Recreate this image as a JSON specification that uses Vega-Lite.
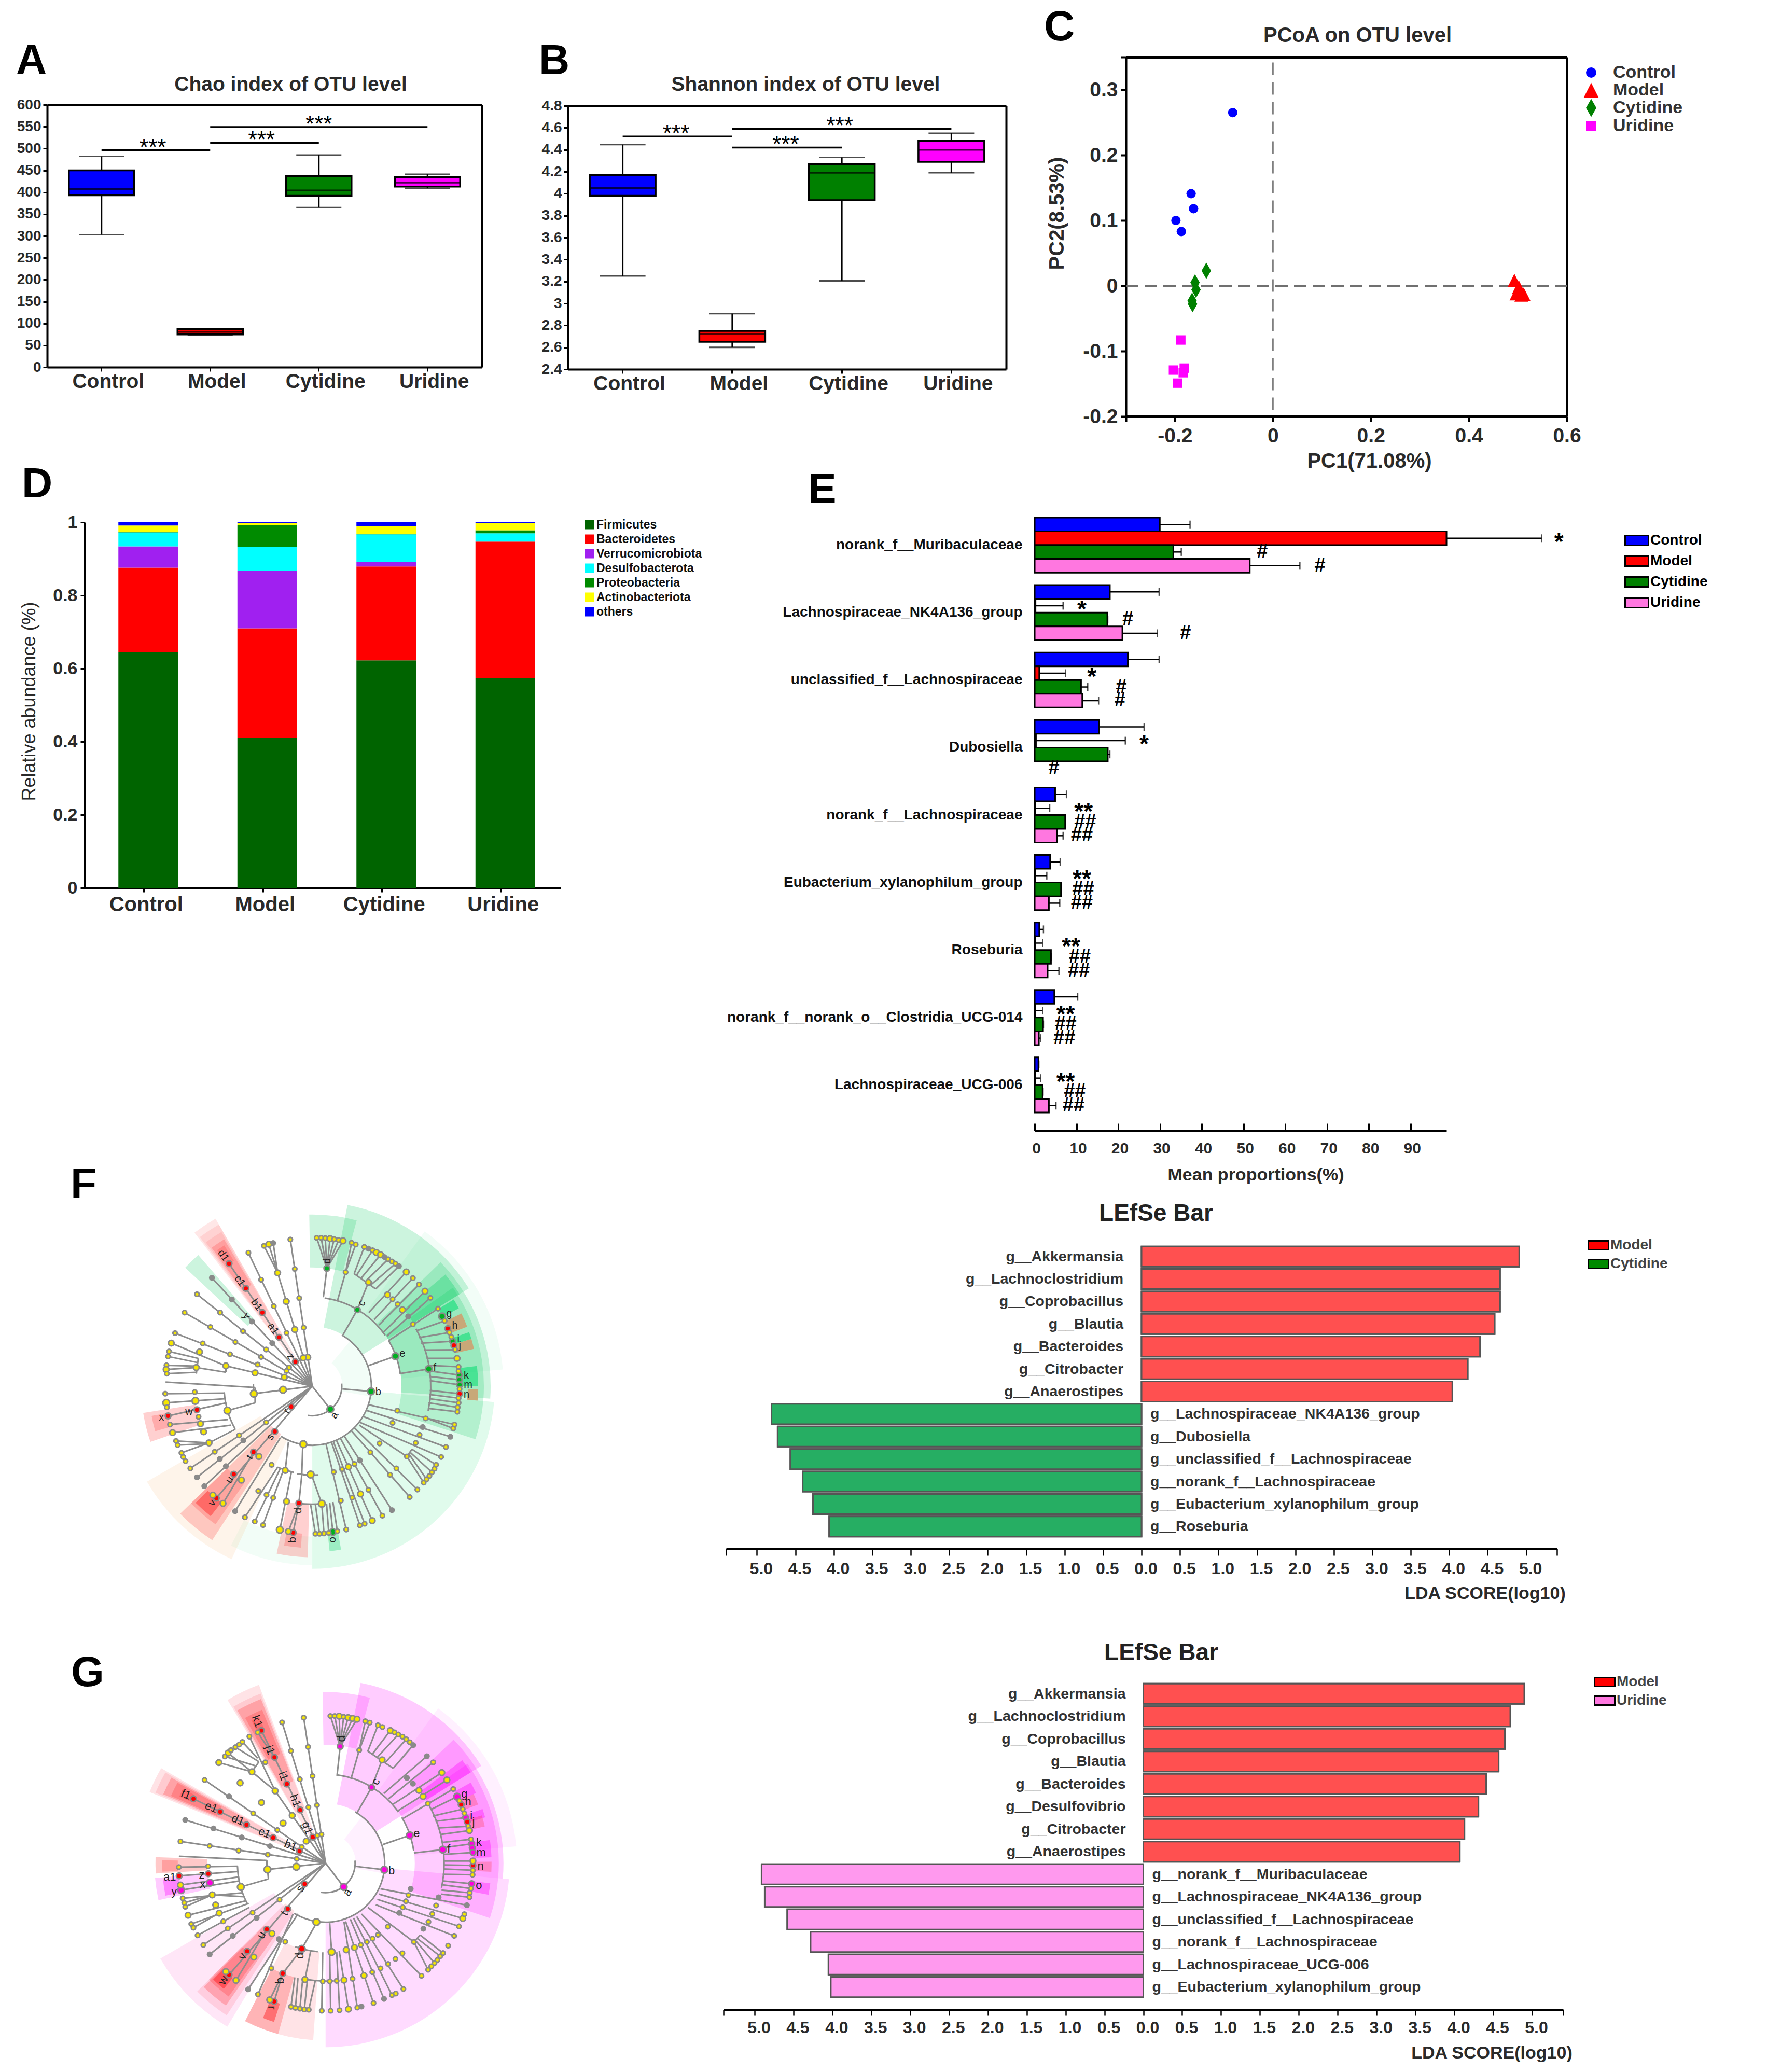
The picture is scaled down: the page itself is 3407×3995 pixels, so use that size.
{"$schema":"https://vega.github.io/schema/vega-lite/v6.json","padding":0,"background":"white","columns":3,"spacing":0,"bounds":"flush","align":"each",
"resolve":{"scale":{"color":"independent","fill":"independent","shape":"independent","size":"independent","theta":"independent","radius":"independent"},"legend":{"color":"independent","fill":"independent","shape":"independent","size":"independent"}},
"config":{"view":{"stroke":null},"font":"Liberation Sans","axis":{"grid":false,"labelFont":"Liberation Sans","labelFontWeight":"bold","labelColor":"#2a2a2a","titleFont":"Liberation Sans","titleFontWeight":"bold","titleColor":"#2a2a2a","domainColor":"#000","tickColor":"#000","labelOverlap":false,"labelFlush":false,"labelAngle":0,"titleBaseline":"alphabetic","titleAlign":"center"},"legend":{"labelFont":"Liberation Sans","labelFontWeight":"bold","labelColor":"#222","labelLimit":500},"title":{"font":"Liberation Sans","fontWeight":"bold","color":"#000","anchor":"start","frame":"group","offset":0,"baseline":"alphabetic"}},
"datasets":{
"boxA":[{"group":"Control","min":303,"q1":393,"med":407,"q3":450,"max":482},{"group":"Model","min":74,"q1":75,"med":81,"q3":87,"max":88},{"group":"Cytidine","min":365,"q1":392,"med":404,"q3":437,"max":485},{"group":"Uridine","min":409,"q1":413,"med":422,"q3":435,"max":441}],
"boxB":[{"group":"Control","min":3.25,"q1":3.98,"med":4.05,"q3":4.17,"max":4.447},{"group":"Model","min":2.6,"q1":2.65,"med":2.72,"q3":2.75,"max":2.907},{"group":"Cytidine","min":3.205,"q1":3.94,"med":4.19,"q3":4.27,"max":4.33},{"group":"Uridine","min":4.19,"q1":4.29,"med":4.4,"q3":4.48,"max":4.55}],
"pcoa":[{"s":"Control","x":-0.082,"y":0.265},{"s":"Control","x":-0.167,"y":0.141},{"s":"Control","x":-0.162,"y":0.118},{"s":"Control","x":-0.198,"y":0.1},{"s":"Control","x":-0.187,"y":0.083},{"s":"Model","x":0.493,"y":0.008},{"s":"Model","x":0.502,"y":-0.002},{"s":"Model","x":0.497,"y":-0.012},{"s":"Model","x":0.507,"y":-0.014},{"s":"Model","x":0.512,"y":-0.013},{"s":"Cytidine","x":-0.136,"y":0.023},{"s":"Cytidine","x":-0.159,"y":0.005},{"s":"Cytidine","x":-0.157,"y":-0.006},{"s":"Cytidine","x":-0.165,"y":-0.023},{"s":"Cytidine","x":-0.164,"y":-0.028},{"s":"Uridine","x":-0.188,"y":-0.083},{"s":"Uridine","x":-0.181,"y":-0.126},{"s":"Uridine","x":-0.183,"y":-0.133},{"s":"Uridine","x":-0.203,"y":-0.129},{"s":"Uridine","x":-0.195,"y":-0.149}],
"stack":[{"g":"Control","p":"Firmicutes","r":1,"v":0.645},{"g":"Control","p":"Bacteroidetes","r":2,"v":0.231},{"g":"Control","p":"Verrucomicrobiota","r":3,"v":0.058},{"g":"Control","p":"Desulfobacterota","r":4,"v":0.0385},{"g":"Control","p":"Proteobacteria","r":5,"v":0.0005},{"g":"Control","p":"Actinobacteriota","r":6,"v":0.018},{"g":"Control","p":"others","r":7,"v":0.009},
{"g":"Model","p":"Firmicutes","r":1,"v":0.41},{"g":"Model","p":"Bacteroidetes","r":2,"v":0.3},{"g":"Model","p":"Verrucomicrobiota","r":3,"v":0.158},{"g":"Model","p":"Desulfobacterota","r":4,"v":0.0645},{"g":"Model","p":"Proteobacteria","r":5,"v":0.0605},{"g":"Model","p":"Actinobacteriota","r":6,"v":0.005},{"g":"Model","p":"others","r":7,"v":0.002},
{"g":"Cytidine","p":"Firmicutes","r":1,"v":0.6225},{"g":"Cytidine","p":"Bacteroidetes","r":2,"v":0.2565},{"g":"Cytidine","p":"Verrucomicrobiota","r":3,"v":0.012},{"g":"Cytidine","p":"Desulfobacterota","r":4,"v":0.076},{"g":"Cytidine","p":"Proteobacteria","r":5,"v":0.001},{"g":"Cytidine","p":"Actinobacteriota","r":6,"v":0.022},{"g":"Cytidine","p":"others","r":7,"v":0.01},
{"g":"Uridine","p":"Firmicutes","r":1,"v":0.574},{"g":"Uridine","p":"Bacteroidetes","r":2,"v":0.373},{"g":"Uridine","p":"Desulfobacterota","r":4,"v":0.023},{"g":"Uridine","p":"Proteobacteria","r":5,"v":0.008},{"g":"Uridine","p":"Actinobacteriota","r":6,"v":0.019},{"g":"Uridine","p":"others","r":7,"v":0.003}],
"prop":[{"c":"norank_f__Muribaculaceae","s":"Control","v":29.96,"e":37.2},{"c":"norank_f__Muribaculaceae","s":"Model","v":98.6,"e":121.4},{"c":"norank_f__Muribaculaceae","s":"Cytidine","v":33.2,"e":35.1},{"c":"norank_f__Muribaculaceae","s":"Uridine","v":51.5,"e":63.5},
{"c":"Lachnospiraceae_NK4A136_group","s":"Control","v":18,"e":29.8},{"c":"Lachnospiraceae_NK4A136_group","s":"Model","v":0.2,"e":6.8},{"c":"Lachnospiraceae_NK4A136_group","s":"Cytidine","v":17.4,"e":17.5},{"c":"Lachnospiraceae_NK4A136_group","s":"Uridine","v":21,"e":29.4},
{"c":"unclassified_f__Lachnospiraceae","s":"Control","v":22.3,"e":29.8},{"c":"unclassified_f__Lachnospiraceae","s":"Model","v":1.1,"e":7.4},{"c":"unclassified_f__Lachnospiraceae","s":"Cytidine","v":11.1,"e":12.7},{"c":"unclassified_f__Lachnospiraceae","s":"Uridine","v":11.4,"e":15.3},
{"c":"Dubosiella","s":"Control","v":15.4,"e":26.2},{"c":"Dubosiella","s":"Model","v":0.3,"e":21.7},{"c":"Dubosiella","s":"Cytidine","v":17.5,"e":18},
{"c":"norank_f__Lachnospiraceae","s":"Control","v":4.9,"e":7.6},{"c":"norank_f__Lachnospiraceae","s":"Model","v":0.1,"e":3.6},{"c":"norank_f__Lachnospiraceae","s":"Cytidine","v":7.3,"e":7.4},{"c":"norank_f__Lachnospiraceae","s":"Uridine","v":5.4,"e":6.8},
{"c":"Eubacterium_xylanophilum_group","s":"Control","v":3.7,"e":6.1},{"c":"Eubacterium_xylanophilum_group","s":"Model","v":0.1,"e":2.9},{"c":"Eubacterium_xylanophilum_group","s":"Cytidine","v":6.3,"e":6.4},{"c":"Eubacterium_xylanophilum_group","s":"Uridine","v":3.4,"e":6},
{"c":"Roseburia","s":"Control","v":1.1,"e":2.1},{"c":"Roseburia","s":"Model","v":0.1,"e":1.9},{"c":"Roseburia","s":"Cytidine","v":3.9,"e":4},{"c":"Roseburia","s":"Uridine","v":3.1,"e":5.8},
{"c":"norank_f__norank_o__Clostridia_UCG-014","s":"Control","v":4.7,"e":10.3},{"c":"norank_f__norank_o__Clostridia_UCG-014","s":"Model","v":0.1,"e":1.9},{"c":"norank_f__norank_o__Clostridia_UCG-014","s":"Cytidine","v":2,"e":2.1},{"c":"norank_f__norank_o__Clostridia_UCG-014","s":"Uridine","v":1,"e":1.4},
{"c":"Lachnospiraceae_UCG-006","s":"Control","v":0.9,"e":1},{"c":"Lachnospiraceae_UCG-006","s":"Model","v":0.1,"e":1.4},{"c":"Lachnospiraceae_UCG-006","s":"Cytidine","v":1.9,"e":2},{"c":"Lachnospiraceae_UCG-006","s":"Uridine","v":3.4,"e":5.1}],
"sig":[{"c":"norank_f__Muribaculaceae","s":"Model","t":"*","x":125.5},{"c":"norank_f__Muribaculaceae","s":"Cytidine","t":"#","x":54.5},{"c":"norank_f__Muribaculaceae","s":"Uridine","t":"#","x":68.3},
{"c":"Lachnospiraceae_NK4A136_group","s":"Model","t":"*","x":11.3},{"c":"Lachnospiraceae_NK4A136_group","s":"Cytidine","t":"#","x":22.3},{"c":"Lachnospiraceae_NK4A136_group","s":"Uridine","t":"#","x":36.1},
{"c":"unclassified_f__Lachnospiraceae","s":"Model","t":"*","x":13.7},{"c":"unclassified_f__Lachnospiraceae","s":"Cytidine","t":"#","x":20.7},{"c":"unclassified_f__Lachnospiraceae","s":"Uridine","t":"#","x":20.4},
{"c":"Dubosiella","s":"Model","t":"*","x":26.2},{"c":"Dubosiella","s":"Uridine","t":"#","x":4.6},
{"c":"norank_f__Lachnospiraceae","s":"Model","t":"**","x":11.7},{"c":"norank_f__Lachnospiraceae","s":"Cytidine","t":"##","x":12.1},{"c":"norank_f__Lachnospiraceae","s":"Uridine","t":"##","x":11.3},
{"c":"Eubacterium_xylanophilum_group","s":"Model","t":"**","x":11.3},{"c":"Eubacterium_xylanophilum_group","s":"Cytidine","t":"##","x":11.6},{"c":"Eubacterium_xylanophilum_group","s":"Uridine","t":"##","x":11.3},
{"c":"Roseburia","s":"Model","t":"**","x":8.7},{"c":"Roseburia","s":"Cytidine","t":"##","x":10.8},{"c":"Roseburia","s":"Uridine","t":"##","x":10.6},
{"c":"norank_f__norank_o__Clostridia_UCG-014","s":"Model","t":"**","x":7.4},{"c":"norank_f__norank_o__Clostridia_UCG-014","s":"Cytidine","t":"##","x":7.4},{"c":"norank_f__norank_o__Clostridia_UCG-014","s":"Uridine","t":"##","x":7.1},
{"c":"Lachnospiraceae_UCG-006","s":"Model","t":"**","x":7.4},{"c":"Lachnospiraceae_UCG-006","s":"Cytidine","t":"##","x":9.6},{"c":"Lachnospiraceae_UCG-006","s":"Uridine","t":"##","x":9.3}],
"lefF":[{"n":"g__Akkermansia","k":"Model","v":4.91},{"n":"g__Lachnoclostridium","k":"Model","v":4.66},{"n":"g__Coprobacillus","k":"Model","v":4.66},{"n":"g__Blautia","k":"Model","v":4.59},{"n":"g__Bacteroides","k":"Model","v":4.4},{"n":"g__Citrobacter","k":"Model","v":4.24},{"n":"g__Anaerostipes","k":"Model","v":4.04},{"n":"g__Lachnospiraceae_NK4A136_group","k":"Cytidine","v":-4.81},{"n":"g__Dubosiella","k":"Cytidine","v":-4.73},{"n":"g__unclassified_f__Lachnospiraceae","k":"Cytidine","v":-4.565},{"n":"g__norank_f__Lachnospiraceae","k":"Cytidine","v":-4.405},{"n":"g__Eubacterium_xylanophilum_group","k":"Cytidine","v":-4.27},{"n":"g__Roseburia","k":"Cytidine","v":-4.06}],
"lefG":[{"n":"g__Akkermansia","k":"Model","v":4.9},{"n":"g__Lachnoclostridium","k":"Model","v":4.72},{"n":"g__Coprobacillus","k":"Model","v":4.65},{"n":"g__Blautia","k":"Model","v":4.57},{"n":"g__Bacteroides","k":"Model","v":4.41},{"n":"g__Desulfovibrio","k":"Model","v":4.31},{"n":"g__Citrobacter","k":"Model","v":4.13},{"n":"g__Anaerostipes","k":"Model","v":4.07},{"n":"g__norank_f__Muribaculaceae","k":"Uridine","v":-4.91},{"n":"g__Lachnospiraceae_NK4A136_group","k":"Uridine","v":-4.87},{"n":"g__unclassified_f__Lachnospiraceae","k":"Uridine","v":-4.58},{"n":"g__norank_f__Lachnospiraceae","k":"Uridine","v":-4.28},{"n":"g__Lachnospiraceae_UCG-006","k":"Uridine","v":-4.05},{"n":"g__Eubacterium_xylanophilum_group","k":"Uridine","v":-4.02}],
"secF":[{"a":180,"b":207,"r":290,"q":345,"k":"g00"},{"a":95,"b":180,"r":115,"q":352,"k":"g0"},{"a":40,"b":100,"r":58,"q":115,"k":"g00"},{"a":36,"b":85,"r":172,"q":369,"k":"g00"},{"a":11,"b":58,"r":115,"q":356,"k":"g1"},{"a":-1,"b":15,"r":229,"q":331,"k":"g1"},{"a":46,"b":94,"r":172,"q":344,"k":"g1"},{"a":55,"b":108,"r":172,"q":331,"k":"g1"},{"a":50,"b":58,"r":230,"q":335,"k":"g2"},{"a":58.5,"b":62,"r":285,"q":320,"k":"g3"},{"a":71,"b":73.5,"r":285,"q":320,"k":"g3"},{"a":83,"b":90,"r":285,"q":320,"k":"g3"},{"a":170,"b":174,"r":285,"q":320,"k":"g2"},{"a":313,"b":319,"r":170,"q":335,"k":"g1"},{"a":205,"b":240,"r":115,"q":368,"k":"o0"},{"a":322.5,"b":330,"r":60,"q":373,"k":"r0"},{"a":323,"b":330,"r":114,"q":360,"k":"r0"},{"a":323.5,"b":329.5,"r":170,"q":345,"k":"r0"},{"a":324,"b":329,"r":228,"q":330,"k":"r1"},{"a":325,"b":328,"r":285,"q":320,"k":"r1"},{"a":251,"b":261,"r":228,"q":330,"k":"r1"},{"a":254,"b":259.5,"r":285,"q":315,"k":"r1"},{"a":213,"b":226,"r":110,"q":354,"k":"r1"},{"a":215,"b":226,"r":228,"q":325,"k":"r1"},{"a":218,"b":225,"r":285,"q":318,"k":"r2"},{"a":181.5,"b":192,"r":228,"q":330,"k":"r1"},{"a":184,"b":190,"r":285,"q":312,"k":"r1"},{"a":64,"b":69,"r":285,"q":320,"k":"tan"},{"a":73.5,"b":77,"r":285,"q":320,"k":"tan"},{"a":91,"b":95,"r":300,"q":320,"k":"tan"}],
"ringF":[{"a":30,"b":212,"r":112.5,"q":115.5},{"a":85,"b":189,"r":55.5,"q":58.5},{"a":8,"b":55,"r":170,"q":173},{"a":59,"b":82,"r":170,"q":173},{"a":61,"b":102,"r":227,"q":230},{"a":241,"b":266,"r":168.5,"q":171.5},{"a":262,"b":272,"r":112,"q":115},{"a":192,"b":203,"r":168.5,"q":171.5},{"a":175,"b":188,"r":226,"q":229},{"a":176,"b":190,"r":170,"q":173}],
"edgeF":[{"x":820,"y":845,"x2":558,"y2":404},{"x":820,"y":845,"x2":504,"y2":455},{"x":820,"y":845,"x2":457,"y2":514},{"x":820,"y":845,"x2":418,"y2":580},{"x":820,"y":845,"x2":388,"y2":654},{"x":820,"y":845,"x2":619,"y2":365},{"x":820,"y":845,"x2":751,"y2":317},{"x":820,"y":845,"x2":711,"y2":437},{"x":711,"y":437,"x2":683,"y2":334},{"x":711,"y":437,"x2":668,"y2":340},{"x":711,"y":437,"x2":697,"y2":330},
{"x":820,"y":845,"x2":548,"y2":772},{"x":548,"y":772,"x2":376,"y2":690},{"x":548,"y":772,"x2":548,"y2":795},{"x":548,"y":795,"x2":455,"y2":778},{"x":461,"y":745,"x2":455,"y2":800},{"x":461,"y":745,"x2":369,"y2":720},{"x":458,"y":760,"x2":366,"y2":738},{"x":456,"y":773,"x2":361,"y2":770},{"x":455,"y":778,"x2":360,"y2":785},{"x":454,"y":795,"x2":362,"y2":800},
{"x":820,"y":845,"x2":636,"y2":872},{"x":640,"y":850,"x2":640,"y2":905},{"x":640,"y":850,"x2":358,"y2":830},{"x":640,"y":905,"x2":553,"y2":933},{"x":545,"y":870,"x2":357,"y2":872},{"x":548,"y":890,"x2":360,"y2":905},{"x":550,"y":905,"x2":366,"y2":952},{"x":555,"y":965,"x2":372,"y2":983},{"x":565,"y":985,"x2":380,"y2":1012},{"x":578,"y":1000,"x2":495,"y2":1049},{"x":495,"y":1049,"x2":408,"y2":1085},{"x":495,"y":1049,"x2":391,"y2":1042},{"x":495,"y":1052,"x2":396,"y2":1057},{"x":408,"y":1085,"x2":421,"y2":1115},
{"x":820,"y":845,"x2":436,"y2":1141},{"x":820,"y":845,"x2":457,"y2":1173},{"x":820,"y":845,"x2":518,"y2":1248},{"x":635,"y":1082,"x2":539,"y2":1267},{"x":820,"y":845,"x2":480,"y2":1205},
{"x":790,"y":1060,"x2":787,"y2":1165},{"x":787,"y":1165,"x2":778,"y2":1266},{"x":778,"y":1266,"x2":760,"y2":1372},{"x":778,"y":1266,"x2":745,"y2":1368},{"x":818,"y":1165,"x2":850,"y2":1268},{"x":815,"y":1272,"x2":830,"y2":1376},{"x":830,"y":1272,"x2":843,"y2":1376},{"x":850,"y":1268,"x2":857,"y2":1375},{"x":865,"y":1268,"x2":872,"y2":1373},{"x":875,"y":1265,"x2":885,"y2":1370},{"x":885,"y":1262,"x2":899,"y2":1367},{"x":792,"y":1165,"x2":815,"y2":1163},{"x":745,"y":1045,"x2":735,"y2":1148},{"x":712,"y":1135,"x2":608,"y2":1317},{"x":755,"y":1150,"x2":718,"y2":1362},{"x":730,"y":1145,"x2":665,"y2":1345},{"x":720,"y":1140,"x2":639,"y2":1332},{"x":720,"y":1030,"x2":577,"y2":1295},
{"x":863,"y":1051,"x2":927,"y2":1361},{"x":886,"y":1043,"x2":985,"y2":1340},{"x":880,"y":1045,"x2":970,"y2":1346},{"x":896,"y":1039,"x2":1009,"y2":1329},{"x":908,"y":1031,"x2":1041,"y2":1311},{"x":920,"y":1023,"x2":1071,"y2":1291},{"x":943,"y":1005,"x2":1127,"y2":1244},{"x":952,"y":994,"x2":1151,"y2":1217},{"x":968,"y":985,"x2":1118,"y2":1098},{"x":1118,"y":1098,"x2":1171,"y2":1192},{"x":1134,"y":1072,"x2":1210,"y2":1128},{"x":1118,"y":1098,"x2":1134,"y2":1072},{"x":1125,"y":1090,"x2":1180,"y2":1180},{"x":1129,"y":1084,"x2":1197,"y2":1155},{"x":970,"y":975,"x2":1226,"y2":1100},{"x":982,"y":955,"x2":1241,"y2":1064},{"x":990,"y":932,"x2":1255,"y2":1027},{"x":998,"y":912,"x2":1268,"y2":983},
{"x":820,"y":845,"x2":877,"y2":928},{"x":915,"y":855,"x2":1005,"y2":864},{"x":917,"y":660,"x2":962,"y2":570},{"x":997,"y":771,"x2":1082,"y2":737},{"x":1095,"y":800,"x2":1187,"y2":783},{"x":900,"y":535,"x2":925,"y2":435},{"x":925,"y":435,"x2":944,"y2":329},{"x":925,"y":435,"x2":957,"y2":335},{"x":855,"y":525,"x2":866,"y2":421},{"x":866,"y":421,"x2":834,"y2":311},{"x":866,"y":421,"x2":848,"y2":311},{"x":866,"y":421,"x2":861,"y2":312},{"x":866,"y":421,"x2":876,"y2":314},{"x":866,"y":421,"x2":889,"y2":316},{"x":866,"y":421,"x2":903,"y2":319},{"x":866,"y":421,"x2":917,"y2":322},
{"x":962,"y":570,"x2":997,"y2":471},{"x":952,"y":440,"x2":984,"y2":344},{"x":960,"y":445,"x2":1010,"y2":356},{"x":975,"y":455,"x2":1035,"y2":372},{"x":990,"y":465,"x2":1059,"y2":388},{"x":1005,"y":480,"x2":1082,"y2":404},{"x":1020,"y":495,"x2":1093,"y2":413},{"x":952,"y":440,"x2":1020,"y2":495},{"x":998,"y":580,"x2":1116,"y2":434},{"x":1015,"y":605,"x2":1137,"y2":456},{"x":1030,"y":625,"x2":1156,"y2":479},{"x":1045,"y":650,"x2":1175,"y2":503},{"x":1055,"y":665,"x2":1192,"y2":527},{"x":1062,"y":680,"x2":1216,"y2":566},
{"x":1150,"y":645,"x2":1237,"y2":610},{"x":1156,"y":670,"x2":1252,"y2":652},{"x":1163,"y":690,"x2":1262,"y2":683},{"x":1172,"y":715,"x2":1270,"y2":714},{"x":1180,"y":745,"x2":1276,"y2":745},{"x":1185,"y":770,"x2":1281,"y2":775},{"x":1188,"y":790,"x2":1283,"y2":805},{"x":1190,"y":810,"x2":1283,"y2":822},{"x":1190,"y":825,"x2":1284,"y2":840},{"x":1190,"y":860,"x2":1284,"y2":872},{"x":1189,"y":875,"x2":1281,"y2":888},{"x":1188,"y":890,"x2":1281,"y2":905},{"x":1186,"y":905,"x2":1278,"y2":921},{"x":1184,"y":925,"x2":1277,"y2":937},{"x":1180,"y":960,"x2":1264,"y2":997}],
"nodeF":[{"x":877,"y":928,"k":"g","s":"c"},{"x":1005,"y":864,"k":"g","s":"c"},{"x":962,"y":570,"k":"g","s":"b"},{"x":866,"y":421,"k":"g","s":"b"},{"x":1082,"y":737,"k":"g","s":"c"},{"x":1187,"y":783,"k":"g","s":"c"},{"x":1229,"y":594,"k":"g","s":"c"},{"x":1262,"y":683,"k":"g","s":"b"},{"x":1283,"y":805,"k":"g","s":"b"},{"x":1283,"y":822,"k":"g","s":"b"},{"x":1284,"y":840,"k":"g","s":"b"},{"x":885,"y":1370,"k":"g","s":"c"},
{"x":1247,"y":638,"k":"r","s":"b"},{"x":1266,"y":698,"k":"r","s":"b"},{"x":1284,"y":872,"k":"r","s":"b"},{"x":558,"y":404,"k":"r","s":"b"},{"x":611,"y":493,"k":"r","s":"b"},{"x":663,"y":580,"k":"r","s":"b"},{"x":715,"y":669,"k":"r","s":"b"},{"x":767,"y":757,"k":"r","s":"b"},{"x":366,"y":952,"k":"r","s":"b"},{"x":457,"y":930,"k":"r","s":"b"},{"x":754,"y":919,"k":"r","s":"b"},{"x":702,"y":1008,"k":"r","s":"b"},{"x":635,"y":1082,"k":"r","s":"b"},{"x":573,"y":1162,"k":"r","s":"b"},{"x":518,"y":1248,"k":"r","s":"b"},{"x":778,"y":1266,"k":"r","s":"b"},{"x":760,"y":1372,"k":"r","s":"b"},
{"x":792,"y":1054,"k":"y","s":"c"},{"x":553,"y":933,"k":"y","s":"c"},{"x":636,"y":872,"k":"y","s":"c"},{"x":728,"y":858,"k":"y","s":"c"},{"x":815,"y":1163,"k":"y","s":"c"},{"x":850,"y":1268,"k":"y","s":"c"},{"x":735,"y":1148,"k":"y","s":"b"},{"x":739,"y":1260,"k":"y","s":"b"},{"x":718,"y":1362,"k":"y","s":"c"},{"x":360,"y":905,"k":"y","s":"c"},{"x":452,"y":898,"k":"y","s":"c"},{"x":997,"y":471,"k":"y","s":"b"},{"x":1116,"y":434,"k":"y","s":"b"},{"x":1057,"y":516,"k":"y","s":"b"},{"x":1104,"y":570,"k":"y","s":"b"},{"x":1175,"y":503,"k":"y","s":"b"},{"x":738,"y":540,"k":"y","s":"b"},{"x":711,"y":437,"k":"y","s":"b"},{"x":683,"y":334,"k":"y","s":"b"},{"x":765,"y":641,"k":"y","s":"b"},{"x":1009,"y":1329,"k":"y","s":"b"},
{"x":619,"y":365,"k":"y","s":"a"},{"x":659,"y":462,"k":"y","s":"a"},{"x":699,"y":557,"k":"y","s":"a"},{"x":739,"y":653,"k":"y","s":"a"},{"x":751,"y":317,"k":"y","s":"a"},{"x":765,"y":423,"k":"y","s":"a"},{"x":779,"y":528,"k":"y","s":"a"},{"x":793,"y":634,"k":"y","s":"a"},{"x":806,"y":741,"k":"y","s":"b"},{"x":792,"y":743,"k":"y","s":"b"},{"x":457,"y":514,"k":"y","s":"a"},{"x":530,"y":580,"k":"y","s":"a"},{"x":602,"y":647,"k":"y","s":"a"},{"x":675,"y":713,"k":"y","s":"a"},{"x":747,"y":778,"k":"y","s":"a"},{"x":418,"y":580,"k":"y","s":"a"},{"x":499,"y":632,"k":"y","s":"a"},{"x":578,"y":686,"k":"y","s":"a"},{"x":659,"y":740,"k":"y","s":"a"},{"x":739,"y":790,"k":"y","s":"a"},{"x":388,"y":654,"k":"y","s":"a"},{"x":475,"y":691,"k":"y","s":"a"},{"x":561,"y":730,"k":"y","s":"a"},{"x":648,"y":767,"k":"y","s":"a"},{"x":732,"y":813,"k":"y","s":"b"},{"x":376,"y":690,"k":"y","s":"b"},{"x":465,"y":722,"k":"y","s":"b"},{"x":548,"y":772,"k":"y","s":"b"},{"x":640,"y":797,"k":"y","s":"b"},{"x":504,"y":455,"k":"n","s":"a"},{"x":567,"y":533,"k":"n","s":"a"},{"x":630,"y":612,"k":"n","s":"a"},{"x":694,"y":690,"k":"n","s":"a"},{"x":668,"y":340,"k":"y","s":"a"},{"x":697,"y":330,"k":"n","s":"a"},
{"x":369,"y":720,"k":"y","s":"a"},{"x":366,"y":738,"k":"y","s":"a"},{"x":361,"y":770,"k":"y","s":"a"},{"x":360,"y":785,"k":"y","s":"b"},{"x":362,"y":800,"k":"y","s":"a"},{"x":455,"y":778,"k":"y","s":"b"},{"x":450,"y":866,"k":"y","s":"a"},{"x":357,"y":872,"k":"y","s":"a"},{"x":362,"y":921,"k":"y","s":"a"},{"x":462,"y":955,"k":"y","s":"a"},{"x":468,"y":980,"k":"y","s":"b"},{"x":372,"y":983,"k":"y","s":"a"},{"x":478,"y":1009,"k":"y","s":"b"},{"x":380,"y":1012,"k":"y","s":"b"},{"x":495,"y":1049,"k":"y","s":"b"},{"x":391,"y":1042,"k":"y","s":"a"},{"x":396,"y":1057,"k":"y","s":"a"},{"x":408,"y":1085,"k":"y","s":"a"},{"x":414,"y":1100,"k":"y","s":"a"},{"x":421,"y":1115,"k":"y","s":"a"},
{"x":675,"y":975,"k":"y","s":"a"},{"x":590,"y":1022,"k":"y","s":"a"},{"x":513,"y":1081,"k":"y","s":"a"},{"x":436,"y":1141,"k":"y","s":"a"},{"x":603,"y":1040,"k":"n","s":"a"},{"x":529,"y":1107,"k":"n","s":"a"},{"x":457,"y":1173,"k":"n","s":"a"},{"x":652,"y":1098,"k":"y","s":"b"},{"x":597,"y":1183,"k":"y","s":"b"},{"x":539,"y":1267,"k":"y","s":"b"},{"x":507,"y":1237,"k":"y","s":"b"},{"x":548,"y":1133,"k":"n","s":"a"},{"x":480,"y":1205,"k":"n","s":"a"},{"x":692,"y":1128,"k":"y","s":"a"},{"x":650,"y":1222,"k":"y","s":"a"},{"x":608,"y":1317,"k":"y","s":"a"},{"x":676,"y":1236,"k":"y","s":"a"},{"x":639,"y":1332,"k":"y","s":"a"},{"x":697,"y":1247,"k":"y","s":"a"},{"x":665,"y":1345,"k":"y","s":"a"},{"x":745,"y":1368,"k":"y","s":"b"},{"x":577,"y":1295,"k":"n","s":"a"},
{"x":830,"y":1376,"k":"y","s":"a"},{"x":843,"y":1376,"k":"y","s":"a"},{"x":857,"y":1375,"k":"y","s":"a"},{"x":872,"y":1373,"k":"y","s":"a"},{"x":899,"y":1367,"k":"y","s":"a"},{"x":888,"y":1154,"k":"y","s":"a"},{"x":927,"y":1361,"k":"y","s":"a"},{"x":914,"y":1144,"k":"y","s":"a"},{"x":985,"y":1340,"k":"y","s":"a"},{"x":970,"y":1346,"k":"y","s":"a"},{"x":934,"y":1135,"k":"y","s":"b"},{"x":953,"y":1125,"k":"y","s":"a"},{"x":970,"y":1112,"k":"n","s":"a"},{"x":1041,"y":1311,"k":"y","s":"a"},{"x":910,"y":1257,"k":"y","s":"a"},{"x":946,"y":1246,"k":"y","s":"a"},{"x":972,"y":1233,"k":"y","s":"b"},{"x":997,"y":1218,"k":"y","s":"a"},{"x":1071,"y":1291,"k":"n","s":"a"},{"x":1003,"y":1083,"k":"y","s":"a"},{"x":1032,"y":1051,"k":"y","s":"a"},{"x":1065,"y":1164,"k":"y","s":"a"},{"x":1127,"y":1244,"k":"y","s":"a"},{"x":1151,"y":1217,"k":"y","s":"a"},{"x":1085,"y":1141,"k":"y","s":"a"},{"x":1118,"y":1098,"k":"y","s":"a"},{"x":1171,"y":1192,"k":"y","s":"a"},{"x":1180,"y":1180,"k":"y","s":"a"},{"x":1189,"y":1168,"k":"y","s":"a"},{"x":1197,"y":1155,"k":"y","s":"a"},{"x":1205,"y":1142,"k":"y","s":"a"},{"x":1210,"y":1128,"k":"y","s":"a"},{"x":1226,"y":1100,"k":"y","s":"a"},{"x":1146,"y":1049,"k":"y","s":"a"},{"x":1241,"y":1064,"k":"y","s":"a"},{"x":1073,"y":977,"k":"y","s":"a"},{"x":1158,"y":1020,"k":"y","s":"a"},{"x":1255,"y":1027,"k":"n","s":"a"},{"x":1088,"y":933,"k":"y","s":"a"},{"x":1168,"y":992,"k":"n","s":"a"},{"x":1264,"y":997,"k":"y","s":"a"},{"x":1268,"y":983,"k":"y","s":"a"},{"x":1177,"y":961,"k":"y","s":"a"},
{"x":834,"y":311,"k":"y","s":"a"},{"x":848,"y":311,"k":"y","s":"a"},{"x":861,"y":312,"k":"y","s":"a"},{"x":876,"y":314,"k":"y","s":"b"},{"x":889,"y":316,"k":"y","s":"a"},{"x":903,"y":319,"k":"y","s":"a"},{"x":917,"y":322,"k":"y","s":"b"},{"x":944,"y":329,"k":"y","s":"a"},{"x":957,"y":335,"k":"y","s":"a"},{"x":925,"y":435,"k":"y","s":"a"},{"x":984,"y":344,"k":"y","s":"a"},{"x":997,"y":350,"k":"n","s":"a"},{"x":1010,"y":356,"k":"y","s":"a"},{"x":1022,"y":364,"k":"y","s":"b"},{"x":1035,"y":372,"k":"y","s":"b"},{"x":1047,"y":380,"k":"n","s":"a"},{"x":1059,"y":388,"k":"y","s":"a"},{"x":1071,"y":396,"k":"y","s":"a"},{"x":1082,"y":404,"k":"y","s":"a"},{"x":1093,"y":413,"k":"n","s":"a"},{"x":1073,"y":532,"k":"y","s":"a"},{"x":1137,"y":456,"k":"y","s":"a"},{"x":1089,"y":550,"k":"y","s":"a"},{"x":1156,"y":479,"k":"y","s":"a"},{"x":1122,"y":594,"k":"n","s":"a"},{"x":1192,"y":527,"k":"y","s":"a"},{"x":1137,"y":622,"k":"y","s":"a"},{"x":1216,"y":566,"k":"y","s":"a"},{"x":1237,"y":610,"k":"y","s":"a"},{"x":1252,"y":652,"k":"y","s":"a"},{"x":1258,"y":668,"k":"y","s":"a"},{"x":1270,"y":714,"k":"y","s":"a"},{"x":1276,"y":745,"k":"y","s":"b"},{"x":1281,"y":775,"k":"y","s":"a"},{"x":1281,"y":791,"k":"y","s":"a"},{"x":1284,"y":855,"k":"y","s":"a"},{"x":1281,"y":888,"k":"y","s":"a"},{"x":1281,"y":905,"k":"y","s":"a"},{"x":1278,"y":921,"k":"y","s":"a"},{"x":1277,"y":937,"k":"y","s":"a"}],
"labF":[{"x":890,"y":950,"t":"a","a":-60},{"x":1028,"y":867,"t":"b","a":0},{"x":976,"y":546,"t":"c","a":-60},{"x":868,"y":394,"t":"d","a":-90},{"x":1104,"y":728,"t":"e","a":0},{"x":1206,"y":778,"t":"f","a":0},{"x":1251,"y":584,"t":"g","a":0},{"x":1269,"y":628,"t":"h","a":0},{"x":1280,"y":675,"t":"i","a":0},{"x":1285,"y":700,"t":"j","a":0},{"x":1305,"y":806,"t":"k","a":0},{"x":1311,"y":840,"t":"m","a":0},{"x":1306,"y":876,"t":"n","a":0},{"x":886,"y":1398,"t":"o","a":90},{"x":778,"y":1293,"t":"p","a":90},{"x":760,"y":1398,"t":"q","a":90},{"x":740,"y":935,"t":"r","a":-60},{"x":688,"y":1028,"t":"s","a":-60},{"x":623,"y":1100,"t":"t","a":-55},{"x":560,"y":1182,"t":"u","a":-55},{"x":505,"y":1265,"t":"v","a":-55},{"x":432,"y":937,"t":"w","a":0},{"x":345,"y":958,"t":"x","a":0},{"x":613,"y":592,"t":"y","a":55},{"x":752,"y":738,"t":"z","a":55},{"x":697,"y":638,"t":"a1","a":55},{"x":645,"y":552,"t":"b1","a":55},{"x":592,"y":466,"t":"c1","a":55},{"x":540,"y":375,"t":"d1","a":55}],
"secG":[{"a":95,"b":180,"r":115,"q":355,"k":"m1"},{"a":38,"b":100,"r":58,"q":115,"k":"m0"},{"a":184,"b":207,"r":172,"q":342,"k":"r0"},{"a":211,"b":240,"r":115,"q":368,"k":"m0"},{"a":211,"b":240,"r":115,"q":368,"k":"r00"},{"a":36,"b":85,"r":172,"q":369,"k":"m0"},{"a":11,"b":58,"r":115,"q":354,"k":"m2"},{"a":46,"b":95,"r":228,"q":343,"k":"m2"},{"a":55,"b":108.5,"r":172,"q":334,"k":"m2"},{"a":-1,"b":15,"r":228,"q":330,"k":"m2"},{"a":53,"b":58,"r":230,"q":330,"k":"m3"},{"a":61,"b":65,"r":285,"q":320,"k":"m3"},{"a":71,"b":74,"r":285,"q":320,"k":"m3"},{"a":82,"b":88,"r":285,"q":320,"k":"m3"},{"a":97,"b":101,"r":285,"q":320,"k":"m3"},{"a":65,"b":69,"r":285,"q":315,"k":"r1"},{"a":73,"b":77,"r":285,"q":315,"k":"r1"},{"a":89.5,"b":93,"r":285,"q":320,"k":"r1"},{"a":257.5,"b":265,"r":228,"q":330,"k":"m2"},{"a":258.5,"b":264,"r":285,"q":315,"k":"m3"},{"a":266.5,"b":272,"r":228,"q":328,"k":"r1"},{"a":267,"b":271,"r":285,"q":315,"k":"r1"},{"a":329,"b":339.5,"r":60,"q":367,"k":"r0"},{"a":329.5,"b":339,"r":114,"q":350,"k":"r0"},{"a":330,"b":338.5,"r":170,"q":340,"k":"r1"},{"a":331,"b":337.5,"r":228,"q":320,"k":"r1"},{"a":332.5,"b":335.5,"r":285,"q":310,"k":"r1"},{"a":292,"b":300,"r":57,"q":366,"k":"r0"},{"a":292.5,"b":299.5,"r":114,"q":355,"k":"r0"},{"a":293,"b":299,"r":170,"q":340,"k":"r1"},{"a":293.5,"b":298.5,"r":228,"q":325,"k":"r1"},{"a":294.5,"b":297.5,"r":285,"q":310,"k":"r1"},{"a":213,"b":225,"r":110,"q":350,"k":"r0"},{"a":215,"b":224.5,"r":170,"q":335,"k":"r1"},{"a":216,"b":225,"r":228,"q":318,"k":"r1"},{"a":219,"b":224,"r":285,"q":312,"k":"r2"},{"a":195.5,"b":207,"r":228,"q":342,"k":"r1"},{"a":198,"b":202,"r":285,"q":322,"k":"r2"}],
"ringG":[{"a":30,"b":212,"r":112.5,"q":115.5},{"a":85,"b":189,"r":55.5,"q":58.5},{"a":8,"b":55,"r":170,"q":173},{"a":59,"b":82,"r":170,"q":173},{"a":61,"b":102,"r":227,"q":230},{"a":242,"b":268,"r":168.5,"q":171.5},{"a":262,"b":272,"r":112,"q":115},{"a":185,"b":200,"r":170,"q":173},{"a":176,"b":190,"r":226,"q":229}],
"edgeG":[{"x":862,"y":808,"x2":793,"y2":258},{"x":862,"y":808,"x2":725,"y2":276},{"x":862,"y":808,"x2":660,"y2":307},{"x":701,"y":408,"x2":648,"y2":314},{"x":862,"y":808,"x2":703,"y2":535},{"x":703,"y":535,"x2":622,"y2":330},{"x":703,"y":535,"x2":630,"y2":463},{"x":630,"y":463,"x2":526,"y2":428},{"x":630,"y":463,"x2":555,"y2":392},{"x":640,"y":440,"x2":545,"y2":405},{"x":652,"y":425,"x2":578,"y2":370},{"x":648,"y":412,"x2":600,"y2":350},{"x":630,"y":463,"x2":652,"y2":425},{"x":862,"y":808,"x2":481,"y2":494},{"x":862,"y":808,"x2":446,"y2":565},{"x":862,"y":808,"x2":420,"y2":645},{"x":862,"y":808,"x2":405,"y2":726},{"x":678,"y":798,"x2":400,"y2":782},{"x":678,"y":798,"x2":679,"y2":832},
{"x":862,"y":808,"x2":679,"y2":832},{"x":682,"y":868,"x2":595,"y2":898},{"x":679,"y":832,"x2":682,"y2":868},{"x":585,"y":820,"x2":400,"y2":823},{"x":586,"y":840,"x2":401,"y2":856},{"x":590,"y":860,"x2":405,"y2":891},{"x":592,"y":875,"x2":407,"y2":910},{"x":600,"y":920,"x2":412,"y2":941},{"x":605,"y":935,"x2":505,"y2":928},{"x":505,"y":928,"x2":417,"y2":958},{"x":505,"y":928,"x2":420,"y2":973},{"x":612,"y":950,"x2":429,"y2":1005},{"x":620,"y":960,"x2":439,"y2":1038},{"x":622,"y":975,"x2":540,"y2":1028},{"x":540,"y":1028,"x2":459,"y2":1081},{"x":527,"y":997,"x2":446,"y2":1052},
{"x":862,"y":808,"x2":558,"y2":1230},{"x":677,"y":1058,"x2":580,"y2":1251},{"x":862,"y":808,"x2":477,"y2":1117},{"x":862,"y":808,"x2":497,"y2":1153},{"x":775,"y":1000,"x2":618,"y2":1285},{"x":760,"y":1000,"x2":649,"y2":1304},{"x":835,"y":1031,"x2":787,"y2":1132},{"x":787,"y":1132,"x2":727,"y2":1225},{"x":727,"y":1225,"x2":700,"y2":1331},{"x":727,"y":1225,"x2":686,"y2":1325},{"x":815,"y":1140,"x2":797,"y2":1248},{"x":765,"y":1240,"x2":753,"y2":1351},{"x":775,"y":1243,"x2":767,"y2":1355},{"x":790,"y":1245,"x2":781,"y2":1358},{"x":805,"y":1247,"x2":795,"y2":1361},{"x":830,"y":1250,"x2":809,"y2":1362},
{"x":875,"y":1035,"x2":881,"y2":1144},{"x":853,"y":1145,"x2":850,"y2":1366},{"x":875,"y":1145,"x2":878,"y2":1366},{"x":897,"y":1145,"x2":906,"y2":1364},{"x":905,"y":1140,"x2":934,"y2":1360},{"x":920,"y":1030,"x2":962,"y2":1354},{"x":925,"y":1028,"x2":1013,"y2":1337},{"x":940,"y":1020,"x2":1046,"y2":1321},{"x":950,"y":1015,"x2":1071,"y2":1307},{"x":960,"y":1010,"x2":1107,"y2":1284},{"x":975,"y":1000,"x2":1164,"y2":1234},{"x":995,"y":975,"x2":1140,"y2":1106},{"x":1140,"y":1106,"x2":1185,"y2":1211},{"x":1160,"y":1080,"x2":1232,"y2":1148},{"x":1140,"y":1106,"x2":1160,"y2":1080},{"x":1145,"y":1100,"x2":1205,"y2":1186},{"x":1150,"y":1092,"x2":1223,"y2":1160},{"x":1020,"y":965,"x2":1267,"y2":1083},{"x":1025,"y":945,"x2":1282,"y2":1047},{"x":1030,"y":925,"x2":1294,"y2":1017},{"x":1035,"y":905,"x2":1307,"y2":967},
{"x":862,"y":808,"x2":919,"y2":898},{"x":955,"y":820,"x2":1047,"y2":833},{"x":960,"y":620,"x2":1007,"y2":522},{"x":1042,"y":738,"x2":1127,"y2":703},{"x":1140,"y":770,"x2":1231,"y2":757},{"x":942,"y":490,"x2":968,"y2":381},{"x":968,"y":381,"x2":987,"y2":272},{"x":968,"y":381,"x2":1001,"y2":277},{"x":898,"y":478,"x2":908,"y2":367},{"x":908,"y":367,"x2":877,"y2":252},{"x":908,"y":367,"x2":891,"y2":252},{"x":908,"y":367,"x2":905,"y2":253},{"x":908,"y":367,"x2":919,"y2":255},{"x":908,"y":367,"x2":933,"y2":258},{"x":908,"y":367,"x2":947,"y2":261},{"x":908,"y":367,"x2":961,"y2":264},
{"x":1007,"y":522,"x2":1040,"y2":418},{"x":995,"y":385,"x2":1027,"y2":287},{"x":1010,"y":395,"x2":1066,"y2":307},{"x":1025,"y":408,"x2":1091,"y2":322},{"x":1050,"y":428,"x2":1116,"y2":340},{"x":1075,"y":450,"x2":1138,"y2":362},{"x":995,"y":385,"x2":1075,"y2":450},{"x":1045,"y":545,"x2":1181,"y2":404},{"x":1060,"y":565,"x2":1201,"y2":427},{"x":1075,"y":585,"x2":1228,"y2":466},{"x":1090,"y":610,"x2":1244,"y2":494},{"x":1105,"y":640,"x2":1264,"y2":528},
{"x":1195,"y":605,"x2":1276,"y2":557},{"x":1200,"y":630,"x2":1294,"y2":604},{"x":1208,"y":650,"x2":1303,"y2":636},{"x":1215,"y":675,"x2":1311,"y2":669},{"x":1222,"y":700,"x2":1315,"y2":685},{"x":1228,"y":730,"x2":1320,"y2":718},{"x":1232,"y":750,"x2":1322,"y2":735},{"x":1233,"y":775,"x2":1326,"y2":768},{"x":1233,"y":800,"x2":1326,"y2":800},{"x":1232,"y":815,"x2":1326,"y2":817},{"x":1232,"y":830,"x2":1326,"y2":835},{"x":1231,"y":850,"x2":1325,"y2":852},{"x":1230,"y":875,"x2":1322,"y2":886},{"x":1229,"y":890,"x2":1320,"y2":904},{"x":1227,"y":910,"x2":1316,"y2":920},{"x":1225,"y":925,"x2":1315,"y2":937}],
"nodeG":[{"x":919,"y":898,"k":"m","s":"c"},{"x":1047,"y":833,"k":"m","s":"c"},{"x":1007,"y":522,"k":"m","s":"b"},{"x":908,"y":367,"k":"m","s":"b"},{"x":1127,"y":703,"k":"m","s":"c"},{"x":1231,"y":757,"k":"m","s":"c"},{"x":1276,"y":557,"k":"m","s":"c"},{"x":1303,"y":636,"k":"m","s":"b"},{"x":1322,"y":735,"k":"m","s":"b"},{"x":1324,"y":751,"k":"m","s":"b"},{"x":1326,"y":768,"k":"m","s":"b"},{"x":1322,"y":886,"k":"m","s":"b"},{"x":498,"y":882,"k":"m","s":"c"},{"x":407,"y":910,"k":"m","s":"c"},
{"x":796,"y":887,"k":"r","s":"b"},{"x":743,"y":981,"k":"r","s":"b"},{"x":677,"y":1058,"k":"r","s":"b"},{"x":615,"y":1141,"k":"r","s":"b"},{"x":558,"y":1230,"k":"r","s":"b"},{"x":787,"y":1132,"k":"r","s":"c"},{"x":727,"y":1225,"k":"r","s":"b"},{"x":700,"y":1331,"k":"r","s":"b"},{"x":1289,"y":587,"k":"r","s":"b"},{"x":1308,"y":652,"k":"r","s":"b"},{"x":1326,"y":817,"k":"r","s":"b"},{"x":822,"y":710,"k":"r","s":"b"},{"x":782,"y":607,"k":"r","s":"b"},{"x":740,"y":509,"k":"r","s":"b"},{"x":701,"y":408,"k":"r","s":"b"},{"x":660,"y":307,"k":"r","s":"b"},{"x":780,"y":763,"k":"r","s":"b"},{"x":697,"y":712,"k":"r","s":"b"},{"x":613,"y":663,"k":"r","s":"b"},{"x":530,"y":614,"k":"r","s":"b"},{"x":446,"y":565,"k":"r","s":"b"},{"x":493,"y":848,"k":"r","s":"b"},{"x":401,"y":856,"k":"r","s":"b"},
{"x":770,"y":822,"k":"y","s":"c"},{"x":679,"y":832,"k":"y","s":"c"},{"x":595,"y":898,"k":"y","s":"c"},{"x":833,"y":1031,"k":"y","s":"c"},{"x":881,"y":1144,"k":"y","s":"c"},{"x":797,"y":1248,"k":"y","s":"b"},{"x":735,"y":1105,"k":"y","s":"a"},{"x":793,"y":258,"k":"y","s":"a"},{"x":807,"y":369,"k":"y","s":"a"},{"x":821,"y":479,"k":"y","s":"a"},{"x":835,"y":589,"k":"y","s":"a"},{"x":849,"y":700,"k":"y","s":"a"},{"x":725,"y":276,"k":"y","s":"a"},{"x":753,"y":384,"k":"y","s":"a"},{"x":781,"y":491,"k":"y","s":"a"},{"x":808,"y":597,"k":"y","s":"a"},{"x":836,"y":704,"k":"y","s":"a"},{"x":648,"y":314,"k":"y","s":"a"},{"x":622,"y":330,"k":"y","s":"a"},{"x":672,"y":427,"k":"y","s":"a"},{"x":757,"y":628,"k":"y","s":"b"},{"x":728,"y":657,"k":"y","s":"b"},{"x":703,"y":535,"k":"y","s":"b"},{"x":801,"y":725,"k":"y","s":"b"},{"x":787,"y":747,"k":"y","s":"a"},{"x":630,"y":463,"k":"y","s":"b"},{"x":526,"y":428,"k":"y","s":"b"},{"x":555,"y":392,"k":"y","s":"b"},{"x":545,"y":405,"k":"y","s":"a"},{"x":564,"y":381,"k":"y","s":"a"},{"x":578,"y":370,"k":"y","s":"a"},{"x":590,"y":360,"k":"y","s":"a"},{"x":600,"y":350,"k":"y","s":"a"},{"x":593,"y":505,"k":"y","s":"b"},{"x":660,"y":579,"k":"y","s":"b"},{"x":481,"y":494,"k":"y","s":"a"},{"x":558,"y":556,"k":"n","s":"a"},{"x":634,"y":620,"k":"y","s":"a"},{"x":710,"y":683,"k":"y","s":"a"},{"x":420,"y":645,"k":"n","s":"a"},{"x":509,"y":677,"k":"n","s":"a"},{"x":598,"y":711,"k":"n","s":"a"},{"x":687,"y":744,"k":"n","s":"a"},{"x":405,"y":726,"k":"y","s":"a"},{"x":497,"y":743,"k":"y","s":"a"},{"x":588,"y":761,"k":"y","s":"a"},{"x":680,"y":776,"k":"y","s":"a"},{"x":771,"y":792,"k":"y","s":"a"},
{"x":492,"y":820,"k":"y","s":"a"},{"x":400,"y":823,"k":"y","s":"a"},{"x":405,"y":891,"k":"y","s":"b"},{"x":505,"y":928,"k":"y","s":"b"},{"x":412,"y":941,"k":"y","s":"a"},{"x":417,"y":958,"k":"y","s":"a"},{"x":420,"y":973,"k":"y","s":"a"},{"x":516,"y":966,"k":"y","s":"b"},{"x":429,"y":1005,"k":"y","s":"b"},{"x":527,"y":997,"k":"y","s":"b"},{"x":439,"y":1038,"k":"y","s":"a"},{"x":446,"y":1052,"k":"y","s":"a"},{"x":540,"y":1028,"k":"y","s":"a"},{"x":459,"y":1081,"k":"y","s":"a"},{"x":693,"y":1074,"k":"y","s":"b"},{"x":636,"y":1163,"k":"y","s":"b"},{"x":580,"y":1251,"k":"y","s":"b"},{"x":548,"y":1218,"k":"y","s":"b"},{"x":717,"y":946,"k":"y","s":"a"},{"x":632,"y":995,"k":"y","s":"a"},{"x":554,"y":1055,"k":"y","s":"a"},{"x":477,"y":1117,"k":"y","s":"a"},{"x":645,"y":1015,"k":"n","s":"a"},{"x":570,"y":1083,"k":"n","s":"a"},{"x":497,"y":1153,"k":"n","s":"a"},{"x":691,"y":1205,"k":"y","s":"a"},{"x":649,"y":1304,"k":"y","s":"a"},{"x":715,"y":1095,"k":"n","s":"a"},{"x":618,"y":1285,"k":"n","s":"a"},{"x":686,"y":1325,"k":"y","s":"b"},{"x":753,"y":1351,"k":"y","s":"a"},{"x":767,"y":1355,"k":"y","s":"a"},{"x":781,"y":1358,"k":"y","s":"a"},{"x":795,"y":1361,"k":"y","s":"a"},{"x":809,"y":1362,"k":"y","s":"a"},
{"x":853,"y":1255,"k":"y","s":"a"},{"x":875,"y":1255,"k":"y","s":"a"},{"x":897,"y":1253,"k":"y","s":"a"},{"x":920,"y":1250,"k":"y","s":"b"},{"x":947,"y":1245,"k":"y","s":"a"},{"x":850,"y":1366,"k":"y","s":"a"},{"x":878,"y":1366,"k":"y","s":"a"},{"x":906,"y":1364,"k":"y","s":"a"},{"x":934,"y":1360,"k":"y","s":"b"},{"x":962,"y":1354,"k":"y","s":"a"},{"x":975,"y":1350,"k":"n","s":"a"},{"x":927,"y":1136,"k":"y","s":"b"},{"x":953,"y":1127,"k":"y","s":"b"},{"x":973,"y":1117,"k":"y","s":"a"},{"x":992,"y":1106,"k":"y","s":"a"},{"x":1010,"y":1093,"k":"y","s":"a"},{"x":1027,"y":1079,"k":"y","s":"a"},{"x":1058,"y":1048,"k":"y","s":"a"},{"x":1013,"y":1337,"k":"y","s":"a"},{"x":1046,"y":1321,"k":"n","s":"a"},{"x":1071,"y":1307,"k":"y","s":"a"},{"x":1083,"y":1301,"k":"y","s":"a"},{"x":1107,"y":1284,"k":"y","s":"a"},{"x":1009,"y":1220,"k":"y","s":"a"},{"x":1035,"y":1206,"k":"y","s":"a"},{"x":983,"y":1233,"k":"y","s":"b"},{"x":1059,"y":1189,"k":"y","s":"a"},{"x":1082,"y":1170,"k":"y","s":"a"},{"x":1104,"y":1149,"k":"y","s":"a"},{"x":1164,"y":1234,"k":"y","s":"a"},{"x":1140,"y":1106,"k":"y","s":"a"},{"x":1094,"y":996,"k":"n","s":"a"},{"x":1170,"y":1056,"k":"n","s":"a"},{"x":1282,"y":1047,"k":"y","s":"a"},{"x":1105,"y":975,"k":"y","s":"a"},{"x":1186,"y":1030,"k":"y","s":"a"},{"x":1267,"y":1083,"k":"y","s":"a"},{"x":1248,"y":1120,"k":"y","s":"a"},{"x":1115,"y":952,"k":"y","s":"a"},{"x":1198,"y":1000,"k":"y","s":"a"},{"x":1294,"y":1017,"k":"y","s":"b"},{"x":1299,"y":1001,"k":"y","s":"a"},{"x":1123,"y":929,"k":"y","s":"a"},{"x":1210,"y":968,"k":"y","s":"a"},{"x":1307,"y":967,"k":"n","s":"a"},{"x":1130,"y":905,"k":"n","s":"a"},{"x":1218,"y":937,"k":"n","s":"a"},{"x":1185,"y":1211,"k":"y","s":"a"},{"x":1195,"y":1198,"k":"y","s":"a"},{"x":1205,"y":1186,"k":"y","s":"a"},{"x":1214,"y":1174,"k":"y","s":"a"},{"x":1223,"y":1160,"k":"y","s":"a"},{"x":1232,"y":1148,"k":"y","s":"a"},
{"x":877,"y":252,"k":"y","s":"a"},{"x":891,"y":252,"k":"y","s":"a"},{"x":905,"y":253,"k":"y","s":"b"},{"x":919,"y":255,"k":"y","s":"a"},{"x":933,"y":258,"k":"y","s":"b"},{"x":947,"y":261,"k":"y","s":"b"},{"x":961,"y":264,"k":"y","s":"b"},{"x":987,"y":272,"k":"y","s":"a"},{"x":1001,"y":277,"k":"y","s":"a"},{"x":968,"y":381,"k":"y","s":"a"},{"x":1040,"y":418,"k":"y","s":"b"},{"x":1027,"y":287,"k":"y","s":"a"},{"x":1041,"y":294,"k":"y","s":"a"},{"x":1066,"y":307,"k":"y","s":"b"},{"x":1079,"y":314,"k":"y","s":"a"},{"x":1091,"y":322,"k":"y","s":"a"},{"x":1104,"y":330,"k":"y","s":"a"},{"x":1116,"y":340,"k":"y","s":"a"},{"x":1127,"y":351,"k":"y","s":"a"},{"x":1138,"y":362,"k":"n","s":"a"},{"x":1118,"y":486,"k":"n","s":"a"},{"x":1181,"y":404,"k":"n","s":"a"},{"x":1137,"y":508,"k":"n","s":"a"},{"x":1201,"y":427,"k":"y","s":"a"},{"x":1156,"y":533,"k":"y","s":"b"},{"x":1228,"y":466,"k":"y","s":"b"},{"x":1169,"y":556,"k":"y","s":"b"},{"x":1244,"y":494,"k":"y","s":"b"},{"x":1184,"y":583,"k":"y","s":"a"},{"x":1264,"y":528,"k":"y","s":"a"},{"x":1283,"y":572,"k":"y","s":"a"},{"x":1294,"y":604,"k":"y","s":"a"},{"x":1299,"y":620,"k":"y","s":"a"},{"x":1311,"y":669,"k":"y","s":"a"},{"x":1315,"y":685,"k":"y","s":"b"},{"x":1320,"y":718,"k":"y","s":"a"},{"x":1326,"y":800,"k":"y","s":"b"},{"x":1326,"y":835,"k":"y","s":"a"},{"x":1325,"y":852,"k":"y","s":"a"},{"x":1320,"y":904,"k":"y","s":"a"},{"x":1316,"y":920,"k":"y","s":"a"},{"x":1315,"y":937,"k":"y","s":"a"}],
"labG":[{"x":930,"y":918,"t":"a","a":-60},{"x":1070,"y":836,"t":"b","a":0},{"x":1020,"y":500,"t":"c","a":-60},{"x":911,"y":338,"t":"d","a":-90},{"x":1149,"y":695,"t":"e","a":0},{"x":1250,"y":754,"t":"f","a":0},{"x":1299,"y":547,"t":"g","a":0},{"x":1311,"y":576,"t":"h","a":0},{"x":1321,"y":630,"t":"i","a":0},{"x":1328,"y":652,"t":"j","a":0},{"x":1345,"y":730,"t":"k","a":0},{"x":1352,"y":768,"t":"m","a":0},{"x":1350,"y":819,"t":"n","a":0},{"x":1345,"y":892,"t":"o","a":0},{"x":784,"y":1158,"t":"p","a":90},{"x":722,"y":1252,"t":"q","a":90},{"x":692,"y":1354,"t":"r","a":90},{"x":782,"y":905,"t":"s","a":-60},{"x":732,"y":998,"t":"t","a":-60},{"x":660,"y":1080,"t":"u","a":-60},{"x":600,"y":1160,"t":"v","a":-60},{"x":540,"y":1250,"t":"w","a":-60},{"x":475,"y":887,"t":"x","a":0},{"x":385,"y":915,"t":"y","a":0},{"x":472,"y":852,"t":"z","a":0},{"x":371,"y":860,"t":"a1","a":0},{"x":752,"y":741,"t":"b1","a":22},{"x":670,"y":694,"t":"c1","a":22},{"x":586,"y":645,"t":"d1","a":22},{"x":502,"y":597,"t":"e1","a":22},{"x":422,"y":549,"t":"f1","a":22},{"x":805,"y":675,"t":"g1","a":70},{"x":767,"y":572,"t":"h1","a":70},{"x":729,"y":479,"t":"i1","a":70},{"x":687,"y":380,"t":"j1","a":70},{"x":647,"y":272,"t":"k1","a":70}]
},
"concat":[
{"width":1000,"height":880,"title":{"text":"A","dx":31,"dy":163,"fontSize":82},"data":{"name":"boxA"},
"encoding":{"x":{"field":"group","type":"nominal","axis":null,"scale":{"type":"band","domain":["Control","Model","Cytidine","Uridine"],"range":[91,929]}},"y":{"field":"min","type":"quantitative","axis":null,"scale":{"domain":[0,600],"range":[708,202],"nice":false}}},
"resolve":{"axis":{"x":"independent","y":"independent"}},
"layer":[
{"mark":{"type":"rule","color":"#000","strokeWidth":3},"encoding":{"x":{"field":"group","type":"nominal","axis":{"orient":"bottom","offset":-172,"domainWidth":4,"tickWidth":3,"tickSize":8,"labelFontSize":39,"labelPadding":0,"labelOffset":13,"title":null}},"y":{"field":"min","type":"quantitative","axis":{"orient":"left","offset":-91,"values":[0,50,100,150,200,250,300,350,400,450,500,550,600],"domainWidth":4,"tickWidth":3,"tickSize":8,"labelFontSize":28,"labelPadding":4,"title":null}},"y2":{"field":"max"}}},
{"mark":{"type":"tick","color":"#000","size":87,"thickness":3,"orient":"horizontal"}},
{"mark":{"type":"tick","color":"#000","size":87,"thickness":3,"orient":"horizontal"},"encoding":{"y":{"field":"max","type":"quantitative","axis":null}}},
{"mark":{"type":"bar","size":126,"stroke":"#000","strokeWidth":3.5},"encoding":{"y":{"field":"q1","type":"quantitative","axis":null},"y2":{"field":"q3"},"fill":{"field":"group","type":"nominal","legend":null,"scale":{"domain":["Control","Model","Cytidine","Uridine"],"range":["#0000ff","#ff0000","#008000","#ff00ff"]}}}},
{"mark":{"type":"tick","color":"#000","size":126,"thickness":3.5,"orient":"horizontal"},"encoding":{"y":{"field":"med","type":"quantitative","axis":null}}},
{"mark":{"type":"tick","opacity":0,"size":1,"orient":"horizontal"},"encoding":{"x":{"field":"group","type":"nominal","axis":{"orient":"top","offset":-202,"ticks":false,"labels":false,"domainWidth":4,"title":"Chao index of OTU level","titleX":560,"titleY":-28,"titleFontSize":39}},"y":{"field":"min","type":"quantitative","axis":{"orient":"right","offset":-71,"ticks":false,"labels":false,"domainWidth":4,"title":null}}}},
{"data":{"values":[{"a":"Control","b":"Model","v":496},{"a":"Model","b":"Cytidine","v":513},{"a":"Model","b":"Uridine","v":549}]},"mark":{"type":"rule","color":"#000","strokeWidth":3.5},"encoding":{"x":{"field":"a","type":"nominal","axis":null},"x2":{"field":"b"},"y":{"field":"v","type":"quantitative","axis":null}}},
{"data":{"values":[{"a":"Control","v":496,"t":"***"},{"a":"Model","v":513,"t":"***"}]},"mark":{"type":"text","fontSize":44,"dx":99,"dy":9,"baseline":"alphabetic","color":"#000"},"encoding":{"x":{"field":"a","type":"nominal","axis":null},"y":{"field":"v","type":"quantitative","axis":null},"text":{"field":"t"}}},
{"data":{"values":[{"a":"Cytidine","v":549,"t":"***"}]},"mark":{"type":"text","fontSize":44,"dy":9,"baseline":"alphabetic","color":"#000"},"encoding":{"x":{"field":"a","type":"nominal","axis":null},"y":{"field":"v","type":"quantitative","axis":null},"text":{"field":"t"}}}
]},
{"width":1000,"height":880,"title":{"text":"B","dx":39,"dy":164,"fontSize":82},"data":{"name":"boxB"},
"encoding":{"x":{"field":"group","type":"nominal","axis":null,"scale":{"type":"band","domain":["Control","Model","Cytidine","Uridine"],"range":[95,940]}},"y":{"field":"min","type":"quantitative","axis":null,"scale":{"domain":[2.4,4.8],"range":[712,204],"nice":false}}},
"resolve":{"axis":{"x":"independent","y":"independent"}},
"layer":[
{"mark":{"type":"rule","color":"#000","strokeWidth":3},"encoding":{"x":{"field":"group","type":"nominal","axis":{"orient":"bottom","offset":-168,"domainWidth":4,"tickWidth":3,"tickSize":8,"labelFontSize":39,"labelPadding":0,"labelOffset":13,"title":null}},"y":{"field":"min","type":"quantitative","axis":{"orient":"left","offset":-95,"values":[2.4,2.6,2.8,3,3.2,3.4,3.6,3.8,4,4.2,4.4,4.6,4.8],"labelExpr":"datum.value==floor(datum.value)?format(datum.value,'d'):format(datum.value,'.1f')","domainWidth":4,"tickWidth":3,"tickSize":8,"labelFontSize":28,"labelPadding":4,"title":null}},"y2":{"field":"max"}}},
{"mark":{"type":"tick","color":"#000","size":88,"thickness":3,"orient":"horizontal"}},
{"mark":{"type":"tick","color":"#000","size":88,"thickness":3,"orient":"horizontal"},"encoding":{"y":{"field":"max","type":"quantitative","axis":null}}},
{"mark":{"type":"bar","size":127,"stroke":"#000","strokeWidth":3.5},"encoding":{"y":{"field":"q1","type":"quantitative","axis":null},"y2":{"field":"q3"},"fill":{"field":"group","type":"nominal","legend":null,"scale":{"domain":["Control","Model","Cytidine","Uridine"],"range":["#0000ff","#ff0000","#008000","#ff00ff"]}}}},
{"mark":{"type":"tick","color":"#000","size":127,"thickness":3.5,"orient":"horizontal"},"encoding":{"y":{"field":"med","type":"quantitative","axis":null}}},
{"mark":{"type":"tick","opacity":0,"size":1,"orient":"horizontal"},"encoding":{"x":{"field":"group","type":"nominal","axis":{"orient":"top","offset":-204,"ticks":false,"labels":false,"domainWidth":4,"title":"Shannon index of OTU level","titleX":553,"titleY":-30,"titleFontSize":39}},"y":{"field":"min","type":"quantitative","axis":{"orient":"right","offset":-60,"ticks":false,"labels":false,"domainWidth":4,"title":null}}}},
{"data":{"values":[{"a":"Control","b":"Model","v":4.52},{"a":"Model","b":"Cytidine","v":4.42},{"a":"Model","b":"Uridine","v":4.59}]},"mark":{"type":"rule","color":"#000","strokeWidth":3.5},"encoding":{"x":{"field":"a","type":"nominal","axis":null},"x2":{"field":"b"},"y":{"field":"v","type":"quantitative","axis":null}}},
{"data":{"values":[{"a":"Control","v":4.52,"t":"***"},{"a":"Model","v":4.42,"t":"***"}]},"mark":{"type":"text","fontSize":44,"dx":103,"dy":9,"baseline":"alphabetic","color":"#000"},"encoding":{"x":{"field":"a","type":"nominal","axis":null},"y":{"field":"v","type":"quantitative","axis":null},"text":{"field":"t"}}},
{"data":{"values":[{"a":"Cytidine","v":4.59,"t":"***"}]},"mark":{"type":"text","fontSize":44,"dx":-4,"dy":9,"baseline":"alphabetic","color":"#000"},"encoding":{"x":{"field":"a","type":"nominal","axis":null},"y":{"field":"v","type":"quantitative","axis":null},"text":{"field":"t"}}}
]},
{"width":1407,"height":880,"title":{"text":"C","dx":13,"dy":99,"fontSize":82},
"resolve":{"axis":{"x":"independent","y":"independent"}},
"layer":[
{"data":{"values":[{"x":0,"a":-0.19,"b":0.35}]},"mark":{"type":"rule","color":"#808080","strokeWidth":3,"strokeDash":[24,14]},"encoding":{"x":{"field":"x","type":"quantitative","scale":{"domain":[-0.3,0.6],"range":[171,1021],"nice":false},"axis":{"orient":"bottom","offset":-77,"values":[-0.3,-0.2,0,0.2,0.4,0.6],"labelExpr":"datum.value==-0.3?'':datum.value==0?'0':replace(format(datum.value,'.1f'),'\u2212','-')","domainWidth":5,"tickWidth":4,"tickSize":10,"labelFontSize":39,"labelPadding":8,"title":"PC1(71.08%)","titleX":640,"titleY":98,"titleFontSize":40}},"y":{"field":"a","type":"quantitative","scale":{"domain":[-0.2,0.35],"range":[803,110],"nice":false},"axis":{"orient":"left","offset":-171,"values":[-0.2,-0.1,0,0.1,0.2,0.3,0.35],"labelExpr":"datum.value==0.35?'':datum.value==0?'0':replace(format(datum.value,'.1f'),'\u2212','-')","domainWidth":4,"tickWidth":4,"tickSize":10,"labelFontSize":39,"labelPadding":6,"title":"PC2(8.53%)","titleX":-133,"titleY":411,"titleAngle":270,"titleBaseline":"middle","titleFontSize":40}},"y2":{"field":"b"}}},
{"data":{"values":[{"y":0,"a":-0.3,"b":0.6}]},"mark":{"type":"rule","color":"#707070","strokeWidth":4,"strokeDash":[24,12]},"encoding":{"y":{"field":"y","type":"quantitative","axis":null},"x":{"field":"a","type":"quantitative","axis":null},"x2":{"field":"b"}}},
{"data":{"name":"pcoa"},"mark":{"type":"point","filled":true,"size":330,"opacity":1},"encoding":{"x":{"field":"x","type":"quantitative","axis":null},"y":{"field":"y","type":"quantitative","axis":null},"color":{"field":"s","type":"nominal","scale":{"domain":["Control","Model","Cytidine","Uridine"],"range":["#0000ff","#ff0000","#008000","#ff00ff"]},"legend":{"orient":"none","legendX":1051,"legendY":123,"title":null,"labelFontSize":34,"labelColor":"#333","symbolSize":400,"rowPadding":-1.5,"labelOffset":25}},"shape":{"field":"s","type":"nominal","scale":{"domain":["Control","Model","Cytidine","Uridine"],"range":["circle","M0,-1.45L1.45,1.45L-1.45,1.45Z","M0,-1.75L1,0L0,1.75L-1,0Z","square"]}}}},
{"data":{"values":[{"x":0,"y":0}]},"mark":{"type":"point","opacity":0},"encoding":{"x":{"field":"x","type":"quantitative","axis":{"orient":"top","offset":-110,"ticks":false,"labels":false,"domainWidth":5,"title":"PCoA on OTU level","titleX":617,"titleY":-30,"titleFontSize":40}},"y":{"field":"y","type":"quantitative","axis":{"orient":"right","offset":-386,"ticks":false,"labels":false,"domainWidth":4,"title":null}}}}
]},
{"width":1000,"height":1340,"title":{"text":"D","dx":42,"dy":100,"fontSize":82},"data":{"name":"stack"},
"mark":{"type":"bar","size":115,"xOffset":8},
"encoding":{"x":{"field":"g","type":"nominal","scale":{"type":"band","domain":["Control","Model","Cytidine","Uridine"],"range":[163,1081]},"axis":{"orient":"bottom","offset":-508,"domainWidth":4,"tickWidth":3,"tickSize":8,"labelFontSize":40,"labelPadding":4,"labelOffset":4,"title":null}},"y":{"field":"v","type":"quantitative","stack":"zero","scale":{"domain":[0,1],"range":[832,127],"nice":false},"axis":{"orient":"left","offset":-163,"values":[0,0.2,0.4,0.6,0.8,1],"labelExpr":"datum.value==0?'0':datum.value==1?'1':format(datum.value,'.1f')","domainWidth":3,"tickWidth":3,"tickSize":8,"labelFontSize":34,"labelPadding":6,"title":"Relative abundance (%)","titleX":-107,"titleY":472,"titleAngle":270,"titleBaseline":"middle","titleFontSize":36,"titleFontWeight":"normal"}},"order":{"field":"r","type":"quantitative"},"color":{"field":"p","type":"nominal","scale":{"domain":["Firmicutes","Bacteroidetes","Verrucomicrobiota","Desulfobacterota","Proteobacteria","Actinobacteriota","others"],"range":["#006400","#ff0000","#a020f0","#00ffff","#008b00","#ffff00","#0000ff"]},"legend":{"orient":"none","legendX":1125,"legendY":120,"title":null,"symbolType":"square","symbolSize":324,"labelFontSize":23,"rowPadding":4,"labelOffset":2,"labelColor":"#111"}}}},
{"width":1000,"height":1340,"title":{"text":"E","dx":558,"dy":111,"fontSize":82},
"layer":[
{"data":{"name":"prop"},"mark":{"type":"bar","stroke":"#000","strokeWidth":3},"encoding":{"x":{"field":"v","type":"quantitative","stack":null,"scale":{"domain":[0,98.6],"range":[995,1789],"nice":false},"axis":{"orient":"bottom","offset":-40,"values":[0,10,20,30,40,50,60,70,80,90],"domainWidth":4,"tickWidth":3,"tickSize":-14,"labelFontSize":30,"labelPadding":33,"labelOffset":3,"title":"Mean proportions(%)","titleX":1421,"titleY":95,"titleFontSize":34}},"y":{"field":"c","type":"nominal","scale":{"type":"band","domain":["norank_f__Muribaculaceae","Lachnospiraceae_NK4A136_group","unclassified_f__Lachnospiraceae","Dubosiella","norank_f__Lachnospiraceae","Eubacterium_xylanophilum_group","Roseburia","norank_f__norank_o__Clostridia_UCG-014","Lachnospiraceae_UCG-006"],"range":[106,1277],"paddingInner":0.184,"paddingOuter":0.092},"axis":{"orient":"left","offset":-995,"domain":false,"ticks":false,"labelFontSize":28,"labelPadding":24,"labelLimit":900,"labelColor":"#111","title":null}},"yOffset":{"field":"s","type":"nominal","scale":{"domain":["Control","Model","Cytidine","Uridine"],"paddingInner":0,"paddingOuter":0}},"fill":{"field":"s","type":"nominal","scale":{"domain":["Control","Model","Cytidine","Uridine"],"range":["#0000ff","#ff0000","#008000","#ff77e0"]},"legend":{"orient":"none","legendX":2132,"legendY":138,"title":null,"labelFontSize":28,"labelColor":"#000","symbolType":"M-1,-0.42H1V0.42H-1Z","symbolSize":2025,"symbolStrokeColor":"#000","symbolStrokeWidth":3,"rowPadding":-2,"labelOffset":2}}}},
{"data":{"name":"prop"},"mark":{"type":"rule","color":"#000","strokeWidth":2.5},"encoding":{"x":{"field":"v","type":"quantitative","stack":null},"x2":{"field":"e"},"y":{"field":"c","type":"nominal"},"yOffset":{"field":"s","type":"nominal"}}},
{"data":{"name":"prop"},"mark":{"type":"tick","color":"#000","size":15,"thickness":2.5,"orient":"vertical"},"encoding":{"x":{"field":"e","type":"quantitative"},"y":{"field":"c","type":"nominal"},"yOffset":{"field":"s","type":"nominal"}}},
{"data":{"name":"sig"},"transform":[{"filter":"indexof(datum.t,'#')>=0"}],"mark":{"type":"text","fontSize":38,"fontWeight":"bold","color":"#000"},"encoding":{"x":{"field":"x","type":"quantitative"},"y":{"field":"c","type":"nominal"},"yOffset":{"field":"s","type":"nominal"},"text":{"field":"t"}}},
{"data":{"name":"sig"},"transform":[{"filter":"indexof(datum.t,'*')>=0"}],"mark":{"type":"text","fontSize":46,"fontWeight":"bold","color":"#000","dy":8},"encoding":{"x":{"field":"x","type":"quantitative"},"y":{"field":"c","type":"nominal"},"yOffset":{"field":"s","type":"nominal"},"text":{"field":"t"}}}
]},
{"width":1,"height":1,"data":{"values":[]},"mark":{"type":"point"},"encoding":{}},
{"width":1000,"height":900,"title":{"text":"F","dx":136,"dy":111,"fontSize":82},
"resolve":{"scale":{"fill":"independent"}},
"layer":[
{"data":{"name":"secF"},"mark":{"type":"arc"},"encoding":{"x":{"datum":820,"type":"quantitative","axis":null,"scale":{"domain":[0,1568],"range":[100,1060],"nice":false}},"y":{"datum":845,"type":"quantitative","axis":null,"scale":{"domain":[0,1568],"range":[0,840],"nice":false}},"theta":{"field":"a","type":"quantitative","stack":null,"scale":{"domain":[0,360]}},"theta2":{"field":"b"},"radius":{"field":"q","type":"quantitative","scale":{"type":"linear","domain":[0,400],"range":[0,400],"nice":false}},"radius2":{"field":"r"},"fill":{"field":"k","type":"nominal","legend":null,"scale":{"domain":["g00","g0","g1","g2","g3","o0","r0","r1","r2","tan"],"range":["rgba(0,220,100,0.05)","rgba(0,225,100,0.12)","rgba(0,200,90,0.2)","rgba(0,210,100,0.3)","rgba(0,220,110,0.55)","rgba(250,190,130,0.17)","rgba(255,60,60,0.12)","rgba(255,40,40,0.22)","rgba(255,0,0,0.35)","#c8a878"]}}}},
{"data":{"name":"ringF"},"mark":{"type":"arc","fill":"#8c8c8c"},"encoding":{"x":{"datum":820,"type":"quantitative","axis":null},"y":{"datum":845,"type":"quantitative","axis":null},"theta":{"field":"a","type":"quantitative","stack":null},"theta2":{"field":"b"},"radius":{"field":"q","type":"quantitative"},"radius2":{"field":"r"}}},
{"data":{"name":"edgeF"},"mark":{"type":"rule","color":"#8c8c8c","strokeWidth":3},"encoding":{"x":{"field":"x","type":"quantitative","axis":null},"y":{"field":"y","type":"quantitative","axis":null},"x2":{"field":"x2"},"y2":{"field":"y2"}}},
{"data":{"name":"nodeF"},"mark":{"type":"point","filled":true,"opacity":1,"stroke":"#8a8a8a","strokeWidth":3},"encoding":{"x":{"field":"x","type":"quantitative","axis":null},"y":{"field":"y","type":"quantitative","axis":null},"size":{"field":"s","type":"ordinal","legend":null,"scale":{"domain":["a","b","c"],"range":[70,170,330]}},"fill":{"field":"k","type":"nominal","legend":null,"scale":{"domain":["y","r","g","n"],"range":["#f5e600","#ff0000","#00b020","#8a8a8a"]}}}},
{"data":{"name":"labF"},"mark":{"type":"text","fontSize":20,"color":"#222"},"encoding":{"x":{"field":"x","type":"quantitative","axis":null},"y":{"field":"y","type":"quantitative","axis":null},"text":{"field":"t"},"angle":{"field":"a","type":"quantitative","scale":null}}}
]},
{"width":1000,"height":900,"title":{"text":"LEfSe Bar","align":"center","dx":1229,"dy":148,"fontSize":46,"color":"#222"},"data":{"name":"lefF"},
"layer":[
{"mark":{"type":"bar","stroke":"#555","strokeWidth":3},"encoding":{"x":{"field":"v","type":"quantitative","scale":{"domain":[-5.4,5.4],"range":[400,2002],"nice":false},"axis":{"orient":"bottom","offset":-134,"values":[-5.4,-5,-4.5,-4,-3.5,-3,-2.5,-2,-1.5,-1,-0.5,0,0.5,1,1.5,2,2.5,3,3.5,4,4.5,5,5.4],"labelExpr":"abs(datum.value)==5.4?'':format(abs(datum.value),'.1f')","domainWidth":3,"tickWidth":2.5,"tickSize":13,"labelFontSize":32,"labelPadding":10,"labelOffset":8,"title":"LDA SCORE(log10)","titleX":1863,"titleY":96,"titleFontSize":34}},"y":{"field":"n","type":"nominal","axis":null,"scale":{"type":"band","domain":["g__Akkermansia","g__Lachnoclostridium","g__Coprobacillus","g__Blautia","g__Bacteroides","g__Citrobacter","g__Anaerostipes","g__Lachnospiraceae_NK4A136_group","g__Dubosiella","g__unclassified_f__Lachnospiraceae","g__norank_f__Lachnospiraceae","g__Eubacterium_xylanophilum_group","g__Roseburia"],"range":[181,745],"paddingInner":0.1,"paddingOuter":0.05}},"fill":{"field":"k","type":"nominal","scale":{"domain":["Model","Cytidine"],"range":["#ff0000","#008a00"]},"legend":{"orient":"none","legendX":2061,"legendY":160,"title":null,"labelFontSize":28,"labelColor":"#444","symbolType":"M-1,-0.43H1V0.43H-1Z","symbolSize":1521,"symbolStrokeColor":"#000","symbolStrokeWidth":3,"rowPadding":-6,"labelOffset":2}}}},
{"transform":[{"filter":"datum.k==='Model'"}],"mark":{"type":"bar","fill":"#ff5050","stroke":"#555","strokeWidth":3},"encoding":{"x":{"field":"v","type":"quantitative"},"y":{"field":"n","type":"nominal"}}},
{"transform":[{"filter":"datum.k!=='Model'"}],"mark":{"type":"bar","fill":"#26ae63","stroke":"#555","strokeWidth":3},"encoding":{"x":{"field":"v","type":"quantitative"},"y":{"field":"n","type":"nominal"}}},
{"transform":[{"filter":"datum.k==='Model'"}],"mark":{"type":"text","align":"right","dx":-35,"fontSize":28.5,"fontWeight":"bold","color":"#333"},"encoding":{"x":{"datum":0,"type":"quantitative"},"y":{"field":"n","type":"nominal"},"text":{"field":"n"}}},
{"transform":[{"filter":"datum.k!=='Model'"}],"mark":{"type":"text","align":"left","dx":17,"fontSize":28.5,"fontWeight":"bold","color":"#333"},"encoding":{"x":{"datum":0,"type":"quantitative"},"y":{"field":"n","type":"nominal"},"text":{"field":"n"}}}
]},
{"width":1,"height":1,"data":{"values":[]},"mark":{"type":"point"},"encoding":{}},
{"width":1000,"height":875,"title":{"text":"G","dx":137,"dy":152,"fontSize":82},
"resolve":{"scale":{"fill":"independent"}},
"layer":[
{"data":{"name":"secG"},"mark":{"type":"arc"},"encoding":{"x":{"datum":862,"type":"quantitative","axis":null,"scale":{"domain":[0,1568],"range":[100,1060],"nice":false}},"y":{"datum":808,"type":"quantitative","axis":null,"scale":{"domain":[0,1568],"range":[60,860],"nice":false}},"theta":{"field":"a","type":"quantitative","stack":null,"scale":{"domain":[0,360]}},"theta2":{"field":"b"},"radius":{"field":"q","type":"quantitative","scale":{"type":"linear","domain":[0,400],"range":[0,400],"nice":false}},"radius2":{"field":"r"},"fill":{"field":"k","type":"nominal","legend":null,"scale":{"domain":["m0","m1","m2","m3","r00","r0","r1","r2"],"range":["rgba(255,0,255,0.06)","rgba(255,0,255,0.14)","rgba(255,0,255,0.2)","rgba(255,0,255,0.35)","rgba(255,60,100,0.05)","rgba(255,60,80,0.14)","rgba(255,40,40,0.25)","rgba(255,0,0,0.38)"]}}}},
{"data":{"name":"ringG"},"mark":{"type":"arc","fill":"#8c8c8c"},"encoding":{"x":{"datum":862,"type":"quantitative","axis":null},"y":{"datum":808,"type":"quantitative","axis":null},"theta":{"field":"a","type":"quantitative","stack":null},"theta2":{"field":"b"},"radius":{"field":"q","type":"quantitative"},"radius2":{"field":"r"}}},
{"data":{"name":"edgeG"},"mark":{"type":"rule","color":"#8c8c8c","strokeWidth":3},"encoding":{"x":{"field":"x","type":"quantitative","axis":null},"y":{"field":"y","type":"quantitative","axis":null},"x2":{"field":"x2"},"y2":{"field":"y2"}}},
{"data":{"name":"nodeG"},"mark":{"type":"point","filled":true,"opacity":1,"stroke":"#8a8a8a","strokeWidth":3},"encoding":{"x":{"field":"x","type":"quantitative","axis":null},"y":{"field":"y","type":"quantitative","axis":null},"size":{"field":"s","type":"ordinal","legend":null,"scale":{"domain":["a","b","c"],"range":[70,170,330]}},"fill":{"field":"k","type":"nominal","legend":null,"scale":{"domain":["y","r","m","n"],"range":["#f5e600","#ff0000","#ff00e0","#8a8a8a"]}}}},
{"data":{"name":"labG"},"mark":{"type":"text","fontSize":22,"color":"#222"},"encoding":{"x":{"field":"x","type":"quantitative","axis":null},"y":{"field":"y","type":"quantitative","axis":null},"text":{"field":"t"},"angle":{"field":"a","type":"quantitative","scale":null}}}
]},
{"width":1000,"height":875,"title":{"text":"LEfSe Bar","align":"center","dx":1239,"dy":95,"fontSize":46,"color":"#222"},"data":{"name":"lefG"},
"layer":[
{"mark":{"type":"bar","stroke":"#555","strokeWidth":3},"encoding":{"x":{"field":"v","type":"quantitative","scale":{"domain":[-5.4,5.4],"range":[395,2014],"nice":false},"axis":{"orient":"bottom","offset":-120,"values":[-5.4,-5,-4.5,-4,-3.5,-3,-2.5,-2,-1.5,-1,-0.5,0,0.5,1,1.5,2,2.5,3,3.5,4,4.5,5,5.4],"labelExpr":"abs(datum.value)==5.4?'':format(abs(datum.value),'.1f')","domainWidth":3,"tickWidth":2.5,"tickSize":11,"labelFontSize":32,"labelPadding":8,"labelOffset":8,"title":"LDA SCORE(log10)","titleX":1876,"titleY":93,"titleFontSize":34}},"y":{"field":"n","type":"nominal","axis":null,"scale":{"type":"band","domain":["g__Akkermansia","g__Lachnoclostridium","g__Coprobacillus","g__Blautia","g__Bacteroides","g__Desulfovibrio","g__Citrobacter","g__Anaerostipes","g__norank_f__Muribaculaceae","g__Lachnospiraceae_NK4A136_group","g__unclassified_f__Lachnospiraceae","g__norank_f__Lachnospiraceae","g__Lachnospiraceae_UCG-006","g__Eubacterium_xylanophilum_group"],"range":[124,733],"paddingInner":0.1,"paddingOuter":0.05}},"fill":{"field":"k","type":"nominal","scale":{"domain":["Model","Uridine"],"range":["#ff0000","#ff77e0"]},"legend":{"orient":"none","legendX":2073,"legendY":102,"title":null,"labelFontSize":28,"labelColor":"#444","symbolType":"M-1,-0.43H1V0.43H-1Z","symbolSize":1521,"symbolStrokeColor":"#000","symbolStrokeWidth":3,"rowPadding":-6,"labelOffset":2}}}},
{"transform":[{"filter":"datum.k==='Model'"}],"mark":{"type":"bar","fill":"#ff5050","stroke":"#555","strokeWidth":3},"encoding":{"x":{"field":"v","type":"quantitative"},"y":{"field":"n","type":"nominal"}}},
{"transform":[{"filter":"datum.k!=='Model'"}],"mark":{"type":"bar","fill":"#ff99ee","stroke":"#555","strokeWidth":3},"encoding":{"x":{"field":"v","type":"quantitative"},"y":{"field":"n","type":"nominal"}}},
{"transform":[{"filter":"datum.k==='Model'"}],"mark":{"type":"text","align":"right","dx":-34,"fontSize":28.5,"fontWeight":"bold","color":"#333"},"encoding":{"x":{"datum":0,"type":"quantitative"},"y":{"field":"n","type":"nominal"},"text":{"field":"n"}}},
{"transform":[{"filter":"datum.k!=='Model'"}],"mark":{"type":"text","align":"left","dx":17,"fontSize":28.5,"fontWeight":"bold","color":"#333"},"encoding":{"x":{"datum":0,"type":"quantitative"},"y":{"field":"n","type":"nominal"},"text":{"field":"n"}}}
]}
]}
